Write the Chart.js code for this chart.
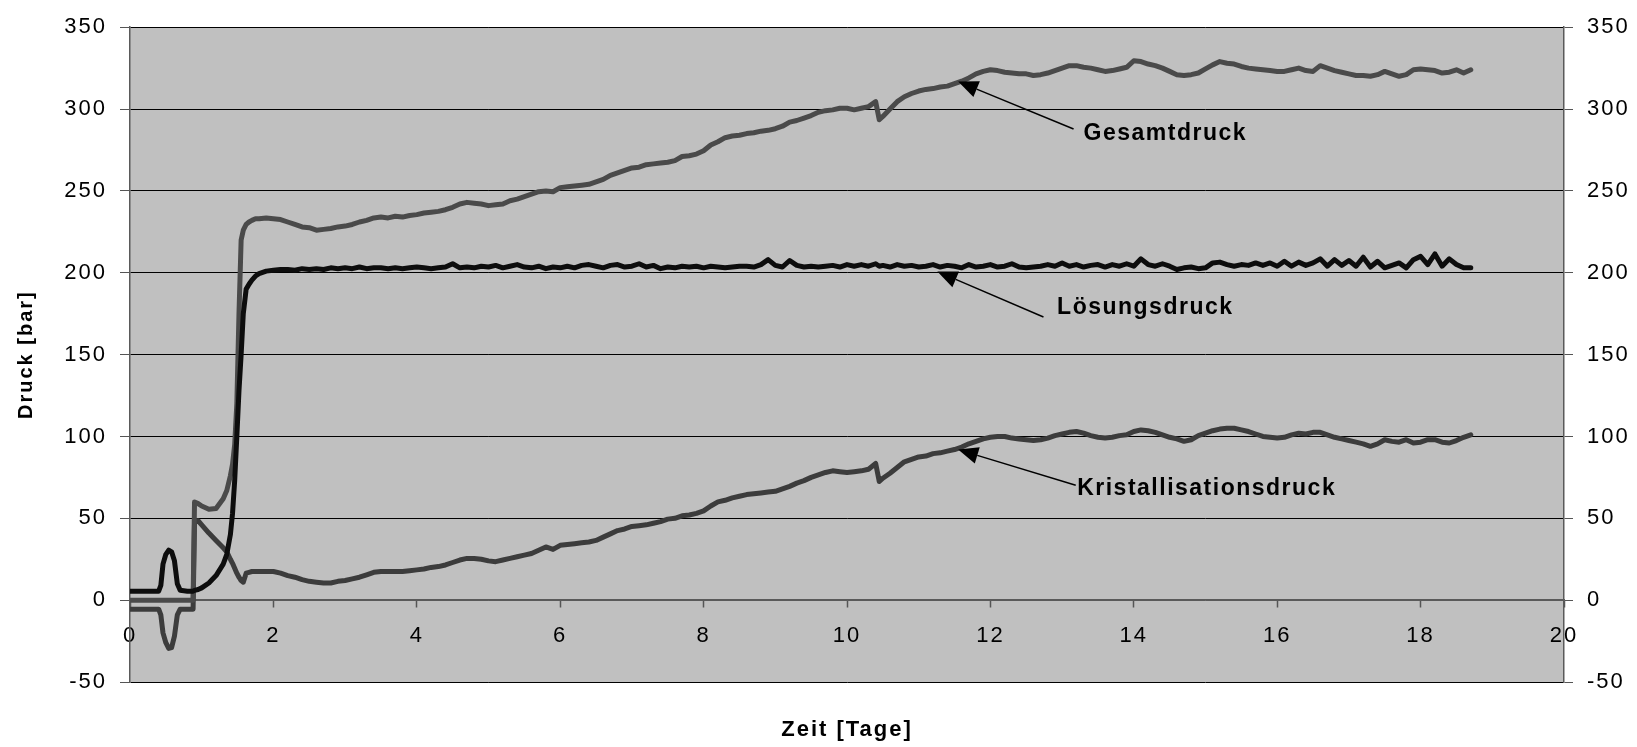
<!DOCTYPE html>
<html lang="de">
<head>
<meta charset="utf-8">
<title>Druckverlauf</title>
<script src="https://cdn.jsdelivr.net/npm/chart.js@4.4.1/dist/chart.umd.min.js"></script>
<style>
  html, body { margin: 0; padding: 0; background: #fff; }
  #wrap { width: 1637px; height: 747px; }
</style>
</head>
<body>
<div id="wrap"><canvas id="druck" width="1637" height="747"></canvas></div>
<script>
// Zeitachse in Tagen (gemeinsam fuer alle drei Messreihen)
const tage = [
  0, 0.2, 0.4, 0.43, 0.46, 0.5, 0.54, 0.58, 0.62, 0.66, 0.7, 0.8, 0.88, 0.9, 0.95, 1, 1.1,
  1.2, 1.3, 1.35, 1.4, 1.43, 1.46, 1.49, 1.52, 1.55, 1.58, 1.62, 1.66, 1.7, 1.75, 1.8, 1.9,
  2, 2.1, 2.2, 2.3, 2.4, 2.5, 2.6, 2.7, 2.8, 2.9,
  3, 3.1, 3.2, 3.3, 3.4, 3.5, 3.6, 3.7, 3.8, 3.9,
  4, 4.1, 4.2, 4.3, 4.4, 4.5, 4.6, 4.7, 4.8, 4.9,
  5, 5.1, 5.2, 5.3, 5.4, 5.5, 5.6, 5.7, 5.8, 5.9,
  6, 6.1, 6.2, 6.3, 6.4, 6.5, 6.6, 6.7, 6.8, 6.9,
  7, 7.1, 7.2, 7.3, 7.4, 7.5, 7.6, 7.7, 7.8, 7.9,
  8, 8.1, 8.2, 8.3, 8.4, 8.5, 8.6, 8.7, 8.8, 8.9,
  9, 9.1, 9.2, 9.3, 9.4, 9.5, 9.6, 9.7, 9.8, 9.9,
  10, 10.1, 10.2, 10.3, 10.4, 10.45, 10.5, 10.6, 10.7, 10.8, 10.9,
  11, 11.1, 11.2, 11.3, 11.4, 11.5, 11.6, 11.7, 11.8, 11.9,
  12, 12.1, 12.2, 12.3, 12.4, 12.5, 12.6, 12.7, 12.8, 12.9,
  13, 13.1, 13.2, 13.3, 13.4, 13.5, 13.6, 13.7, 13.8, 13.9,
  14, 14.1, 14.2, 14.3, 14.4, 14.5, 14.6, 14.7, 14.8, 14.9,
  15, 15.1, 15.2, 15.3, 15.4, 15.5, 15.6, 15.7, 15.8, 15.9,
  16, 16.1, 16.2, 16.3, 16.4, 16.5, 16.6, 16.7, 16.8, 16.9,
  17, 17.1, 17.2, 17.3, 17.4, 17.5, 17.6, 17.7, 17.8, 17.9,
  18, 18.1, 18.2, 18.3, 18.4, 18.5, 18.6, 18.7
];

// Gesamtdruck [bar]
const gesamtdruck = [
  0, 0, 0, 0, 0, 0, 0, 0, 0, 0, 0, 0, 0, 60, 59, 57.5, 55.5,
  56, 62, 67, 76, 83, 95, 120, 175, 220, 226, 229.5, 231, 232, 233, 233, 233.5,
  233, 232.5, 231, 229.5, 228, 227.5, 226, 226.5, 227, 228,
  228.5, 229.5, 231, 232, 233.5, 234, 233.5, 234.5, 234, 235,
  235.5, 236.5, 237, 237.5, 238.5, 240, 242, 243, 242.5, 242,
  241, 241.5, 242, 244, 245, 246.5, 248, 249.5, 250, 249.5,
  252, 252.5, 253, 253.5, 254, 255.5, 257, 259.5, 261, 262.5,
  264, 264.5, 266, 266.5, 267, 267.5, 268.5, 271, 271.5, 272.5,
  274.5, 278, 280, 282.5, 283.5, 284, 285, 285.5, 286.5, 287,
  288, 289.5, 292, 293, 294.5, 296, 298, 299, 299.5, 300.5,
  300.5, 299.5, 300.5, 301.5, 304.5, 293.5, 295.5, 300, 304.5, 307.5, 309.5,
  311, 312, 312.5, 313.5, 314, 315.5, 317, 319, 321.5, 323,
  324, 323.5, 322.5, 322, 321.5, 321.5, 320.5, 321, 322, 323.5,
  325, 326.5, 326.5, 325.5, 325, 324, 323, 323.5, 324.5, 325.5,
  329.5, 329, 327.5, 326.5, 325, 323, 321, 320.5, 321, 322,
  324.5, 327, 329, 328, 327.5, 326, 325, 324.5, 324, 323.5,
  323, 323, 324, 325, 323.5, 323, 326.5, 325, 323.5, 322.5,
  321.5, 320.5, 320.5, 320, 321, 323, 321.5, 320, 321, 324,
  324.5, 324, 323.5, 322, 322.5, 324, 322, 324
];

// Loesungsdruck [bar]
const loesungsdruck = [
  5.5, 5.5, 5.5, 9, 22, 28, 30.5, 29.5, 24, 10, 6, 5.5, 5.5, 6, 6.5, 7.5, 10.5,
  15, 22, 28, 40, 53, 73, 100, 128, 150, 175, 190, 193, 195.5, 198, 199.5, 201,
  201.5, 202, 202, 201.5, 202.5, 202, 202.5, 202, 203, 202.5,
  203, 202.5, 203.5, 202.5, 203, 203, 202.5, 203, 202.5, 203,
  203.5, 203, 202.5, 203, 203.5, 205.5, 203, 203.5, 203, 204,
  203.5, 204.5, 203, 204, 205, 203.5, 203, 204, 202.5, 203.5,
  203, 204, 203, 204.5, 205, 204, 203, 204.5, 205, 203.5,
  204, 205.5, 203.5, 204.5, 202.5, 203.5, 203, 204, 203.5, 204,
  203, 204, 203.5, 203, 203.5, 204, 204, 203.5, 205, 208,
  204.5, 203.5, 207.5, 204.5, 203.5, 204, 203.5, 204, 204.5, 203.5,
  205, 204, 205, 204, 205.5, 204, 204.5, 203.5, 205, 204, 204.5,
  203.5, 204, 205, 203.5, 204.5, 204, 203, 205, 203.5, 204,
  205, 203.5, 204, 205.5, 203.5, 203, 203.5, 204, 205, 204,
  206, 204, 205, 203.5, 204.5, 205, 203.5, 205, 204, 205.5,
  204, 208.5, 205, 204, 205.5, 204, 202, 203, 203.5, 202.5,
  203, 206, 206.5, 205, 204, 205, 204.5, 206, 204.5, 206,
  204, 207, 204, 206.5, 204.5, 206, 208.5, 204, 208, 204.5,
  207.5, 204, 209.5, 203.5, 207, 203, 204.5, 206, 203, 208,
  210, 205, 211.5, 204, 208.5, 205, 203, 203
];

// Kristallisationsdruck [bar]
const kristallisationsdruck = [
  -5.5, -5.5, -5.5, -9, -20, -26, -29.5, -29, -22, -9, -5.5, -5.5, -5.5, 48, 48.5, 46, 41,
  36.5, 32, 29.5, 25, 22.5, 19.5, 16.5, 14, 12, 11, 16.5, 17, 17.5, 17.5, 17.5, 17.5,
  17.5, 16.5, 15, 14, 12.5, 11.5, 11, 10.5, 10.5, 11.5,
  12, 13, 14, 15.5, 17, 17.5, 17.5, 17.5, 17.5, 18,
  18.5, 19, 20, 20.5, 21.5, 23, 24.5, 25.5, 25.5, 25,
  24, 23.5, 24.5, 25.5, 26.5, 27.5, 28.5, 30.5, 32.5, 31,
  33.5, 34, 34.5, 35, 35.5, 36.5, 38.5, 40.5, 42.5, 43.5,
  45, 45.5, 46, 47, 48, 49.5, 50, 51.5, 52, 53,
  54.5, 57.5, 60, 61, 62.5, 63.5, 64.5, 65, 65.5, 66,
  66.5, 68, 69.5, 71.5, 73, 75, 76.5, 78, 79, 78.5,
  78, 78.5, 79, 80, 83.5, 72.5, 74.5, 77.5, 81, 84.5, 86,
  87.5, 88, 89.5, 90, 91, 92, 93.5, 95.5, 97, 98.5,
  99.5, 100, 100, 99, 98.5, 98, 97.5, 98, 99, 100.5,
  101.5, 102.5, 103, 102, 100.5, 99.5, 99, 99.5, 100.5, 101,
  103, 104, 103.5, 102.5, 101, 99.5, 98.5, 97, 98, 100.5,
  102, 103.5, 104.5, 105, 105, 104, 103, 101.5, 100, 99.5,
  99, 99.5, 101, 102, 101.5, 102.5, 102.5, 101, 99.5, 98.5,
  97.5, 96.5, 95.5, 94, 95.5, 98, 97, 96.5, 98, 96,
  96.5, 98, 98, 96.5, 96, 97.5, 99.5, 101
];

// Beschriftungen mit Pfeil: Pfeilspitze, Linienanfang und Textanker in Achsenwerten
const beschriftungen = [
  { text: 'Gesamtdruck', spitze: [11.55, 316.8], linie: [13.16, 287.8], schrift: [13.3, 284.8] },
  { text: 'Lösungsdruck', spitze: [11.26, 200.8], linie: [12.74, 173], schrift: [12.93, 178.4] },
  { text: 'Kristallisationsdruck', spitze: [11.55, 92], linie: [13.19, 70.2], schrift: [13.21, 68.4] }
];

const schrift = '"Liberation Sans", Arial, sans-serif';
Chart.defaults.font.family = schrift;
Chart.defaults.color = '#000';

function punkte(werte) {
  return tage.map((t, i) => ({ x: t, y: werte[i] }));
}

// grauer Hintergrund der Zeichenflaeche, Zeichenabstand fuer die Achsentexte
const hintergrund = {
  id: 'hintergrund',
  beforeDraw(chart) {
    const { ctx, chartArea: a } = chart;
    ctx.letterSpacing = '2px';
    ctx.save();
    ctx.fillStyle = '#c0c0c0';
    ctx.fillRect(a.left, a.top, a.right - a.left, a.bottom - a.top);
    ctx.restore();
  }
};

// Pfeile und fette Reihennamen
const pfeile = {
  id: 'pfeile',
  afterDatasetsDraw(chart) {
    const { ctx } = chart;
    const sx = chart.scales.x, sy = chart.scales.y;
    ctx.save();
    ctx.letterSpacing = '1.5px';
    ctx.font = 'bold 23px ' + schrift;
    ctx.fillStyle = '#000';
    ctx.strokeStyle = '#000';
    ctx.lineWidth = 1.5;
    beschriftungen.forEach(function (b) {
      const x0 = sx.getPixelForValue(b.linie[0]);
      const y0 = sy.getPixelForValue(b.linie[1]);
      const x1 = sx.getPixelForValue(b.spitze[0]);
      const y1 = sy.getPixelForValue(b.spitze[1]);
      const w = Math.atan2(y1 - y0, x1 - x0);
      const len = 20, halb = 8.5;
      const bx = x1 - Math.cos(w) * len;
      const by = y1 - Math.sin(w) * len;
      ctx.beginPath();
      ctx.moveTo(x0, y0);
      ctx.lineTo(bx, by);
      ctx.stroke();
      ctx.beginPath();
      ctx.moveTo(x1, y1);
      ctx.lineTo(bx + Math.sin(w) * halb, by - Math.cos(w) * halb);
      ctx.lineTo(bx - Math.sin(w) * halb, by + Math.cos(w) * halb);
      ctx.closePath();
      ctx.fill();
      ctx.textAlign = 'left';
      ctx.textBaseline = 'middle';
      ctx.fillText(b.text, sx.getPixelForValue(b.schrift[0]), sy.getPixelForValue(b.schrift[1]));
    });
    ctx.restore();
  }
};

const linie = { pointRadius: 0, borderWidth: 5, fill: false, tension: 0, borderJoinStyle: 'round', borderCapStyle: 'round' };

new Chart(document.getElementById('druck'), {
  type: 'line',
  data: {
    datasets: [
      Object.assign({ label: 'Lösungsdruck', data: punkte(loesungsdruck), borderColor: '#0d0d0d' }, linie),
      Object.assign({ label: 'Gesamtdruck', data: punkte(gesamtdruck), borderColor: '#4a4a4a' }, linie),
      Object.assign({ label: 'Kristallisationsdruck', data: punkte(kristallisationsdruck), borderColor: '#3c3c3c' }, linie)
    ]
  },
  options: {
    responsive: false,
    animation: false,
    events: [],
    layout: { padding: { top: 20, left: 0, right: 0, bottom: 0 } },
    plugins: { legend: { display: false }, tooltip: { enabled: false } },
    scales: {
      x: {
        type: 'linear',
        position: { y: 0 },
        min: 0,
        max: 20,
        ticks: { stepSize: 2, padding: 16, autoSkip: false, maxRotation: 0, font: { size: 22 } },
        grid: { drawOnChartArea: false, tickLength: 7, tickColor: '#555', tickWidth: 1.5 },
        border: { color: '#5a5a5a', width: 1.5 }
      },
      x2: {
        type: 'linear',
        position: 'bottom',
        min: 0,
        max: 20,
        ticks: { display: false },
        grid: { display: false },
        border: { display: false },
        title: { display: true, text: 'Zeit [Tage]', font: { size: 22, weight: 'bold' }, padding: { top: 0, bottom: 4 } },
        afterFit(s) { s.height = 65; }
      },
      y: {
        position: 'left',
        min: -50,
        max: 350,
        ticks: { stepSize: 50, padding: 13, font: { size: 22 } },
        grid: {
          color: (c) => (c.tick && c.tick.value === 0 ? '#5a5a5a' : '#000'),
          lineWidth: 1,
          tickLength: 10,
          tickColor: '#555'
        },
        border: { color: '#5a5a5a', width: 1.5 },
        title: { display: true, text: 'Druck [bar]', font: { size: 20, weight: 'bold' }, padding: { top: 14, bottom: 0 } },
        afterFit(s) { s.width = 130; }
      },
      y2: {
        position: 'right',
        min: -50,
        max: 350,
        ticks: { stepSize: 50, padding: 14, font: { size: 22 } },
        grid: { drawOnChartArea: false, tickLength: 9, tickColor: '#555' },
        border: { color: '#5a5a5a', width: 1.5 },
        afterFit(s) { s.width = 73; }
      }
    }
  },
  plugins: [hintergrund, pfeile]
});
</script>
</body>
</html>
